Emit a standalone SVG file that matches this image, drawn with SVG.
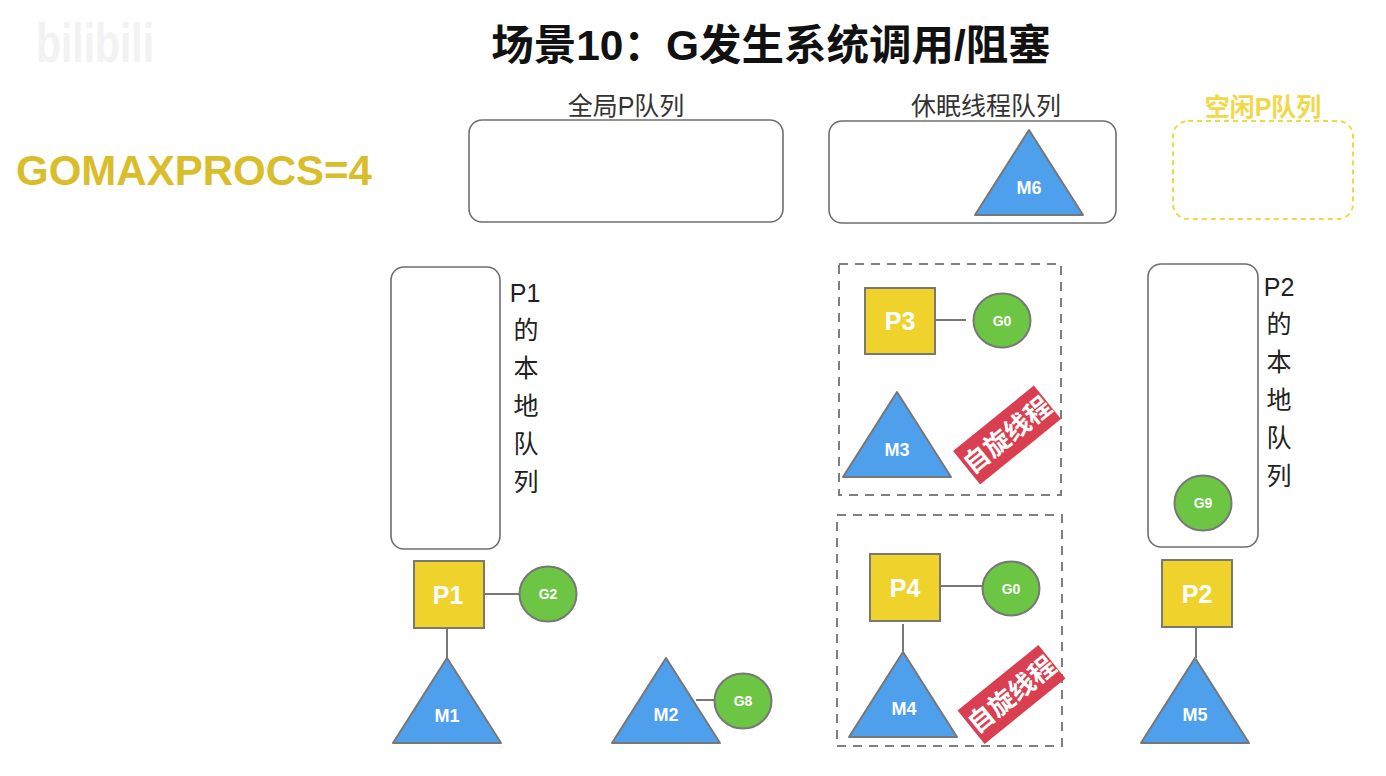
<svg xmlns="http://www.w3.org/2000/svg" width="1386" height="776" viewBox="0 0 1386 776">
<style>
text{font-family:"Liberation Sans","Noto Sans CJK SC",sans-serif;text-anchor:middle}
.box{fill:#fff;stroke:#6f6f6f;stroke-width:1.6}
.dash{fill:none;stroke:#7f7f7f;stroke-width:2;stroke-dasharray:9 7}
.p{fill:#efd32c;stroke:#7a7a6a;stroke-width:2}
.m{fill:#4e9fec;stroke:#777;stroke-width:2;stroke-linejoin:round}
.g{fill:#6cc644;stroke:#777;stroke-width:2}
.pt{font-size:25px;font-weight:700;fill:#fff}
.mt{font-size:18px;font-weight:700;fill:#fff}
.gt{font-size:14px;font-weight:700;fill:#fff}
.lb{font-size:25px;fill:#222}
.cap{font-size:25px;fill:#333}
.spin{fill:#d93f50}
.st{font-size:26px;font-weight:700;fill:#fff}
.ln{stroke:#777;stroke-width:2;fill:none}
</style>
<rect width="1386" height="776" fill="#fff"/>
<text id="watermark" x="95" y="62" style="font-size:56px;font-weight:700;fill:#f2f2f2" textLength="118" lengthAdjust="spacingAndGlyphs">bilibili</text>
<text id="title" x="771" y="60" style="font-size:42.500px;font-weight:700;fill:#111">场景10：G发生系统调用/阻塞</text>
<text id="gomaxprocs" x="194" y="185" style="font-size:42px;font-weight:700;fill:#d9bd2b">GOMAXPROCS=4</text>

<g id="connectors">
<line class="ln" x1="484" y1="594" x2="520" y2="594"/>
<line class="ln" x1="447" y1="629" x2="447" y2="658"/>
<line class="ln" x1="936" y1="320" x2="966" y2="320"/>
<line class="ln" x1="941" y1="586" x2="983" y2="586"/>
<line class="ln" x1="903" y1="624" x2="903" y2="652"/>
<line class="ln" x1="1196" y1="628" x2="1196" y2="658"/>
<line class="ln" x1="696" y1="700" x2="716" y2="700"/>
</g>

<g id="global-queue"><rect class="box" x="469" y="120" width="314" height="102" rx="13"/><text class="cap" x="626" y="115">全局P队列</text></g>
<g id="sleep-queue"><rect class="box" x="829" y="121" width="287" height="102" rx="13"/><text class="cap" x="986" y="115">休眠线程队列</text></g>
<g id="idle-queue"><rect x="1173" y="121" width="180" height="98" rx="15" fill="none" stroke="#efd84a" stroke-width="2" stroke-dasharray="5 4"/><text x="1263" y="116" style="font-size:25px;font-weight:700;fill:#efd84a">空闲P队列</text></g>
<g id="m6"><polygon class="m" points="1029,130 1083,215 975,215"/><text class="mt" x="1029" y="194">M6</text></g>

<g id="p1-queue"><rect class="box" x="391" y="267" width="109" height="282" rx="13"/>
<text class="lb" x="525" y="302">P1</text><text class="lb" x="526" y="339">的</text><text class="lb" x="526" y="377">本</text><text class="lb" x="526" y="415">地</text><text class="lb" x="526" y="453">队</text><text class="lb" x="526" y="491">列</text></g>
<g id="p1"><rect class="p" x="414" y="561" width="70" height="67"/><text class="pt" x="448" y="604">P1</text></g>
<g id="g2"><ellipse class="g" cx="548" cy="594" rx="28.500" ry="27.500"/><text class="gt" x="548" y="599">G2</text></g>
<g id="m1"><polygon class="m" points="447,658 501,743 393,743"/><text class="mt" x="447" y="722">M1</text></g>
<g id="m2"><polygon class="m" points="666,658 720,743 612,743"/><text class="mt" x="666" y="721">M2</text></g>
<g id="g8"><ellipse class="g" cx="743" cy="701" rx="28.500" ry="27.500"/><text class="gt" x="743" y="706">G8</text></g>

<g id="p3-group"><rect class="dash" x="839" y="264" width="222" height="231"/></g>
<g id="p3"><rect class="p" x="865" y="288" width="70" height="66"/><text class="pt" x="900" y="330">P3</text></g>
<g id="g0a"><ellipse class="g" cx="1002" cy="320.500" rx="28.500" ry="27"/><text class="gt" x="1002" y="326">G0</text></g>
<g id="m3"><polygon class="m" points="897,392 951,477 843,477"/><text class="mt" x="897" y="456">M3</text></g>
<g id="spin1"><g transform="translate(1007,435) rotate(-39)"><rect class="spin" x="-52" y="-21.500" width="104" height="43"/><text class="st" x="0" y="9.500">自旋线程</text></g></g>

<g id="p4-group"><rect class="dash" x="837" y="515" width="225" height="231"/></g>
<g id="p4"><rect class="p" x="870" y="554" width="70" height="67"/><text class="pt" x="905" y="597">P4</text></g>
<g id="g0b"><ellipse class="g" cx="1011" cy="588.500" rx="28.500" ry="27"/><text class="gt" x="1011" y="594">G0</text></g>
<g id="m4"><polygon class="m" points="903,652 957,737 849,737"/><text class="mt" x="904" y="715">M4</text></g>
<g id="spin2"><g transform="translate(1011.500,694.500) rotate(-39)"><rect class="spin" x="-52" y="-21.500" width="104" height="43"/><text class="st" x="0" y="9.500">自旋线程</text></g></g>

<g id="p2-queue"><rect class="box" x="1148" y="264" width="110" height="283" rx="13"/>
<text class="lb" x="1279" y="296">P2</text><text class="lb" x="1279" y="333">的</text><text class="lb" x="1279" y="371">本</text><text class="lb" x="1279" y="409">地</text><text class="lb" x="1279" y="447">队</text><text class="lb" x="1279" y="485">列</text></g>
<g id="g9"><ellipse class="g" cx="1203" cy="503" rx="28.500" ry="27.500"/><text class="gt" x="1203" y="508">G9</text></g>
<g id="p2"><rect class="p" x="1162" y="560" width="70" height="67"/><text class="pt" x="1197" y="603">P2</text></g>
<g id="m5"><polygon class="m" points="1195,658 1249,743 1141,743"/><text class="mt" x="1195" y="721">M5</text></g>
</svg>
